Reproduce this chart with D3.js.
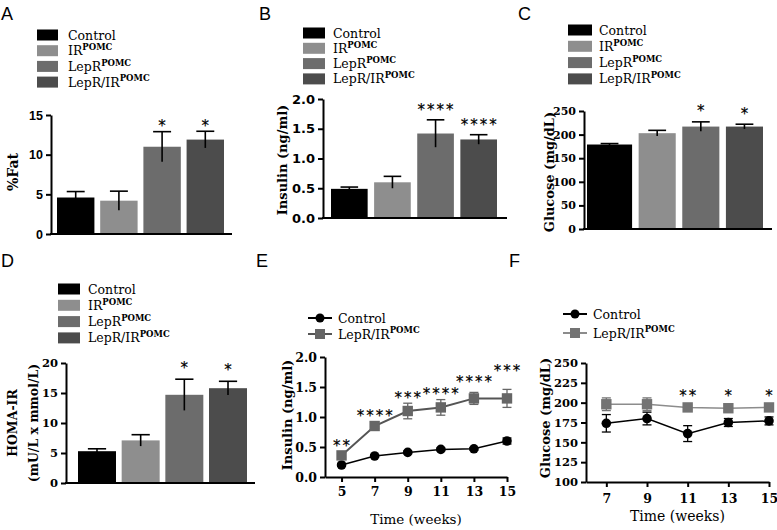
<!DOCTYPE html>
<html><head><meta charset="utf-8">
<script src="https://cdn.jsdelivr.net/npm/d3@7"></script>
<style>body{margin:0;background:#fff}svg{display:block}</style>
</head><body>
<svg id="c" width="777" height="530"></svg>
<script>
// ---------------- DATA ----------------
const groups = ["Control", "IR", "LepR", "LepR/IR"];
const groupSup = ["", "POMC", "POMC", "POMC"];

const fatMean = [4.6, 4.2, 11.0, 11.9];
const fatErr = [0.75, 1.2, 1.9, 1.05];
const fatStars = ["", "", "*", "*"];
const fatTicks = [0, 5, 10, 15];

const insMean = [0.49, 0.60, 1.42, 1.32];
const insErr = [0.03, 0.10, 0.23, 0.08];
const insStars = ["", "", "****", "****"];
const insTicks = [0, 0.5, 1.0, 1.5, 2.0];

const gluMean = [179, 203, 217, 217];
const gluErr = [2, 6, 10, 5];
const gluStars = ["", "", "*", "*"];
const gluTicks = [0, 50, 100, 150, 200, 250];

const homaMean = [5.3, 7.1, 14.7, 15.8];
const homaErr = [0.4, 0.95, 2.6, 1.15];
const homaStars = ["", "", "*", "*"];
const homaTicks = [0, 5, 10, 15, 20];

const seriesE = ["Control", "LepR/IR"];
const weeksE = [5, 7, 9, 11, 13, 15];
const insCtrl = [0.20, 0.35, 0.41, 0.46, 0.47, 0.60];
const insCtrlErr = [0.02, 0.02, 0.02, 0.02, 0.02, 0.05];
const insDko = [0.36, 0.85, 1.10, 1.16, 1.31, 1.31];
const insDkoErr = [0.03, 0.04, 0.13, 0.13, 0.10, 0.15];
const starsE = ["**", "****", "***", "****", "****", "***"];
const starLevelE = [0.58, 1.08, 1.37, 1.45, 1.65, 1.82];
const ticksEy = [0, 0.5, 1.0, 1.5, 2.0];

const weeksF = [7, 9, 11, 13, 15];
const gluCtrl = [174, 180, 161, 175, 177];
const gluCtrlErr = [11, 8, 10, 5, 5];
const gluDko = [198, 198, 194, 193, 194];
const gluDkoErr = [8, 8, 3, 4, 3];
const starsF = ["", "", "**", "*", "*"];
const starLevelF = [213, 213, 213, 213, 213];
const ticksFy = [100, 125, 150, 175, 200, 225, 250];

// ---------------- STYLE ----------------
const fills = ["#000000", "#8e8e8e", "#6c6c6c", "#4c4c4c"];
const serif = "'DejaVu Serif', serif";
const svg = d3.select("#c");

function panelLetter(t, x, y) {
  svg.append("text").attr("x", x).attr("y", y).text(t).attr("fill", "#000")
    .attr("font-family", "'Liberation Sans', Arial, sans-serif").attr("font-size", 18);
}
function labelWithSup(sel, name, sup, size) {
  sel.text(null);
  sel.append("tspan").text(name);
  if (sup) sel.append("tspan").text(sup).attr("font-size", size * 0.68).attr("font-weight", "bold").attr("dy", -size * 0.42);
}
function starText(x, yCenter, s) {
  svg.append("text").attr("x", x + 1).attr("y", yCenter + 8.5).attr("text-anchor", "middle")
    .attr("font-family", "'DejaVu Sans', sans-serif").attr("font-size", 15).attr("letter-spacing", 2)
    .attr("fill", "#000").attr("stroke", "#000").attr("stroke-width", 0.2).text(s);
}
function yLabel(lines, cx, cy, size) {
  lines.forEach((l, i) => {
    svg.append("text").attr("transform", `translate(${cx[i]},${cy}) rotate(-90)`)
      .attr("text-anchor", "middle").attr("dominant-baseline", "central").attr("fill", "#000")
      .attr("font-family", serif).attr("font-weight", "bold").attr("font-size", size).text(l);
  });
}
function styleAxis(g, font, size, weight) {
  g.select(".domain").attr("stroke", "#000").attr("stroke-width", 2);
  g.selectAll(".tick line").attr("stroke", "#000").attr("stroke-width", 2);
  g.selectAll(".tick text").attr("font-family", font).attr("font-size", size)
    .attr("font-weight", weight).attr("fill", "#000");
}

function barPanel(c) {
  const y = d3.scaleLinear().domain([c.ticks[0], c.ticks[c.ticks.length - 1]]).range([c.y0, c.y1]);
  const x = d3.scaleBand().domain(groups).range(c.band).paddingInner(c.pad).paddingOuter(0);
  groups.forEach((gname, i) => {
    const cy = c.leg.y + i * c.leg.pitch;
    svg.append("rect").attr("x", c.leg.x).attr("y", cy - 5.5).attr("width", c.leg.w).attr("height", 11).attr("fill", fills[i]);
    const t = svg.append("text").attr("x", c.leg.tx).attr("y", cy + 4.5).attr("fill", "#000")
      .attr("font-family", serif).attr("font-size", 12.5);
    labelWithSup(t, gname, groupSup[i], 12.5);
  });
  groups.forEach((gname, i) => {
    let bx = x(gname), bw = x.bandwidth();
    if (i === 0 && c.widenFirst) { bw += bx - (c.ax + c.widenFirst); bx = c.ax + c.widenFirst; }
    svg.append("rect").attr("x", bx).attr("y", y(c.mean[i])).attr("width", bw)
      .attr("height", y(c.ticks[0]) - y(c.mean[i])).attr("fill", fills[i]);
    const cx = bx + bw / 2, cw = x.bandwidth() * 0.24;
    const top = y(c.mean[i] + c.err[i]), bot = y(c.mean[i] - c.err[i]);
    svg.append("line").attr("x1", cx).attr("x2", cx).attr("y1", top).attr("y2", bot).attr("stroke", "#000").attr("stroke-width", 1.6);
    svg.append("line").attr("x1", cx - cw).attr("x2", cx + cw).attr("y1", top).attr("y2", top).attr("stroke", "#000").attr("stroke-width", 1.6);
    if (c.stars[i]) starText(cx, top - c.starOff, c.stars[i]);
  });
  const ga = svg.append("g").attr("transform", `translate(${c.ax},0)`)
    .call(d3.axisLeft(y).tickValues(c.ticks).tickFormat(c.fmt).tickSize(5).tickSizeOuter(0));
  styleAxis(ga, c.tfont, c.tsize, "bold");
  svg.append("line").attr("x1", c.ax - 1).attr("x2", c.axEnd).attr("y1", y(c.ticks[0])).attr("y2", y(c.ticks[0]))
    .attr("stroke", "#000").attr("stroke-width", 2);
  yLabel(c.ylab, c.ylx, c.yly, c.ylsize);
}

panelLetter("A", 1, 20);
barPanel({mean: fatMean, err: fatErr, stars: fatStars, ticks: fatTicks, fmt: d3.format("d"),
  y0: 234, y1: 115, band: [57, 224], pad: 0.134, ax: 51, axEnd: 232,
  leg: {x: 37, w: 21, y: 35, pitch: 15.7, tx: 68}, starOff: 9,
  tfont: "'Liberation Sans', Arial, sans-serif", tsize: 12.5,
  ylab: ["%Fat"], ylx: [13], yly: 172, ylsize: 14});

panelLetter("B", 259, 20);
barPanel({mean: insMean, err: insErr, stars: insStars, ticks: insTicks, fmt: d3.format(".1f"),
  y0: 218, y1: 99, band: [331, 497], pad: 0.15, ax: 323, axEnd: 507,
  leg: {x: 303, w: 22, y: 33, pitch: 15.3, tx: 333}, starOff: 13,
  tfont: "'DejaVu Sans', sans-serif", tsize: 13,
  ylab: ["Insulin (ng/ml)"], ylx: [282], yly: 160, ylsize: 13});

panelLetter("C", 518, 20);
barPanel({mean: gluMean, err: gluErr, stars: gluStars, ticks: gluTicks, fmt: d3.format("d"),
  y0: 229, y1: 111, band: [595, 763], pad: 0.15, ax: 584, axEnd: 772, widenFirst: 3,
  leg: {x: 568, w: 24, y: 30, pitch: 16.3, tx: 599}, starOff: 14,
  tfont: serif, tsize: 11,
  ylab: ["Glucose (mg/dL)"], ylx: [549], yly: 172, ylsize: 13});

panelLetter("D", 1, 267);
barPanel({mean: homaMean, err: homaErr, stars: homaStars, ticks: homaTicks, fmt: d3.format("d"),
  y0: 483, y1: 363, band: [78, 247], pad: 0.13, ax: 66, axEnd: 255,
  leg: {x: 58, w: 22, y: 289, pitch: 16.3, tx: 88}, starOff: 15,
  tfont: serif, tsize: 11.5,
  ylab: ["HOMA-IR", "(mU/L x mmol/L)"], ylx: [12, 33], yly: 423, ylsize: 12.5});

function linePanel(c) {
  const x = d3.scaleLinear().domain(c.xdom).range(c.xr);
  const y = d3.scaleLinear().domain([c.yt[0], c.yt[c.yt.length - 1]]).range(c.yr);
  const ser = [
    {v: c.ctrl, e: c.ctrlErr, color: "#000", line: "#000", lw: 1.5, shape: "circle"},
    {v: c.dko, e: c.dkoErr, color: c.dkoColor, line: c.dkoLine, lw: c.dkoLw, shape: "square"}
  ];
  seriesE.forEach((s, i) => {
    const cy = c.leg.y[i];
    svg.append("line").attr("x1", c.leg.x - 12).attr("x2", c.leg.x + 12).attr("y1", cy).attr("y2", cy)
      .attr("stroke", ser[i].line).attr("stroke-width", 2);
    if (ser[i].shape === "circle") svg.append("circle").attr("cx", c.leg.x).attr("cy", cy).attr("r", 4.5).attr("fill", "#000");
    else svg.append("rect").attr("x", c.leg.x - 5).attr("y", cy - 5).attr("width", 10).attr("height", 10).attr("fill", ser[i].color);
    const t = svg.append("text").attr("x", c.leg.tx).attr("y", cy + 4.5).attr("fill", "#000").attr("font-family", serif).attr("font-size", 12.5);
    labelWithSup(t, s, i === 0 ? "" : "POMC", 12.5);
  });
  const order = c.ctrlOnTop ? [1, 0] : [0, 1];
  order.forEach(k => {
    const s = ser[k];
    const stroke = k === 0 ? "#000" : s.color;
    const line = d3.line().x((d, i) => x(c.weeks[i])).y(d => y(d));
    svg.append("path").attr("d", line(s.v)).attr("fill", "none").attr("stroke", s.line).attr("stroke-width", s.lw);
    s.v.forEach((v, i) => {
      const px = x(c.weeks[i]), t = y(v + s.e[i]), b = y(v - s.e[i]);
      svg.append("line").attr("x1", px).attr("x2", px).attr("y1", t).attr("y2", b).attr("stroke", stroke).attr("stroke-width", 1.3);
      [t, b].forEach(yy => svg.append("line").attr("x1", px - 4.5).attr("x2", px + 4.5).attr("y1", yy).attr("y2", yy)
        .attr("stroke", stroke).attr("stroke-width", 1.3));
      if (s.shape === "circle") svg.append("circle").attr("cx", px).attr("cy", y(v)).attr("r", 4.8).attr("fill", "#000");
      else svg.append("rect").attr("x", px - 5.2).attr("y", y(v) - 5.2).attr("width", 10.4).attr("height", 10.4).attr("fill", s.color);
    });
  });
  c.stars.forEach((st, i) => { if (st) starText(x(c.weeks[i]), y(c.starLevel[i]), st); });
  const gy = svg.append("g").attr("transform", `translate(${c.xr[0]},0)`)
    .call(d3.axisLeft(y).tickValues(c.yt).tickFormat(c.yfmt).tickSize(5).tickSizeOuter(0));
  styleAxis(gy, serif, c.ytsize, "bold");
  const gx = svg.append("g").attr("transform", `translate(0,${c.yr[0]})`)
    .call(d3.axisBottom(x).tickValues(c.weeks).tickFormat(d3.format("d")).tickSize(5).tickSizeOuter(0));
  styleAxis(gx, serif, 12.5, "bold");
  gx.selectAll(".tick text").attr("dy", null).attr("y", c.xtDy);
  svg.append("text").attr("x", (c.xr[0] + c.xr[1]) / 2).attr("y", c.tlY).attr("text-anchor", "middle").attr("fill", "#000")
    .attr("font-family", serif).attr("font-size", c.tlSize).text("Time (weeks)");
  yLabel([c.ylab], [c.ylx], c.yly, 13);
}

panelLetter("E", 256, 267);
linePanel({weeks: weeksE, ctrl: insCtrl, ctrlErr: insCtrlErr, dko: insDko, dkoErr: insDkoErr,
  stars: starsE, starLevel: starLevelE, xdom: [4, 15], xr: [325, 507], yr: [477, 357], yt: ticksEy, yfmt: d3.format(".1f"), ytsize: 12.5,
  dkoColor: "#666666", dkoLine: "#555555", dkoLw: 2,
  leg: {x: 320, y: [318, 334], tx: 338}, xtDy: 19, tlY: 524, tlSize: 13.5,
  ylab: "Insulin (ng/ml)", ylx: 287, yly: 415});

panelLetter("F", 509, 267);
linePanel({weeks: weeksF, ctrl: gluCtrl, ctrlErr: gluCtrlErr, dko: gluDko, dkoErr: gluDkoErr,
  stars: starsF, starLevel: starLevelF, xdom: [6, 15], xr: [586, 769], yr: [482, 363], yt: ticksFy, yfmt: d3.format("d"), ytsize: 11.5,
  dkoColor: "#737373", dkoLine: "#8c8c8c", dkoLw: 1.5, ctrlOnTop: true,
  leg: {x: 575, y: [314, 333], tx: 593}, xtDy: 21, tlY: 521, tlSize: 14,
  ylab: "Glucose (mg/dL)", ylx: 545, yly: 418});
</script>
</body></html>
